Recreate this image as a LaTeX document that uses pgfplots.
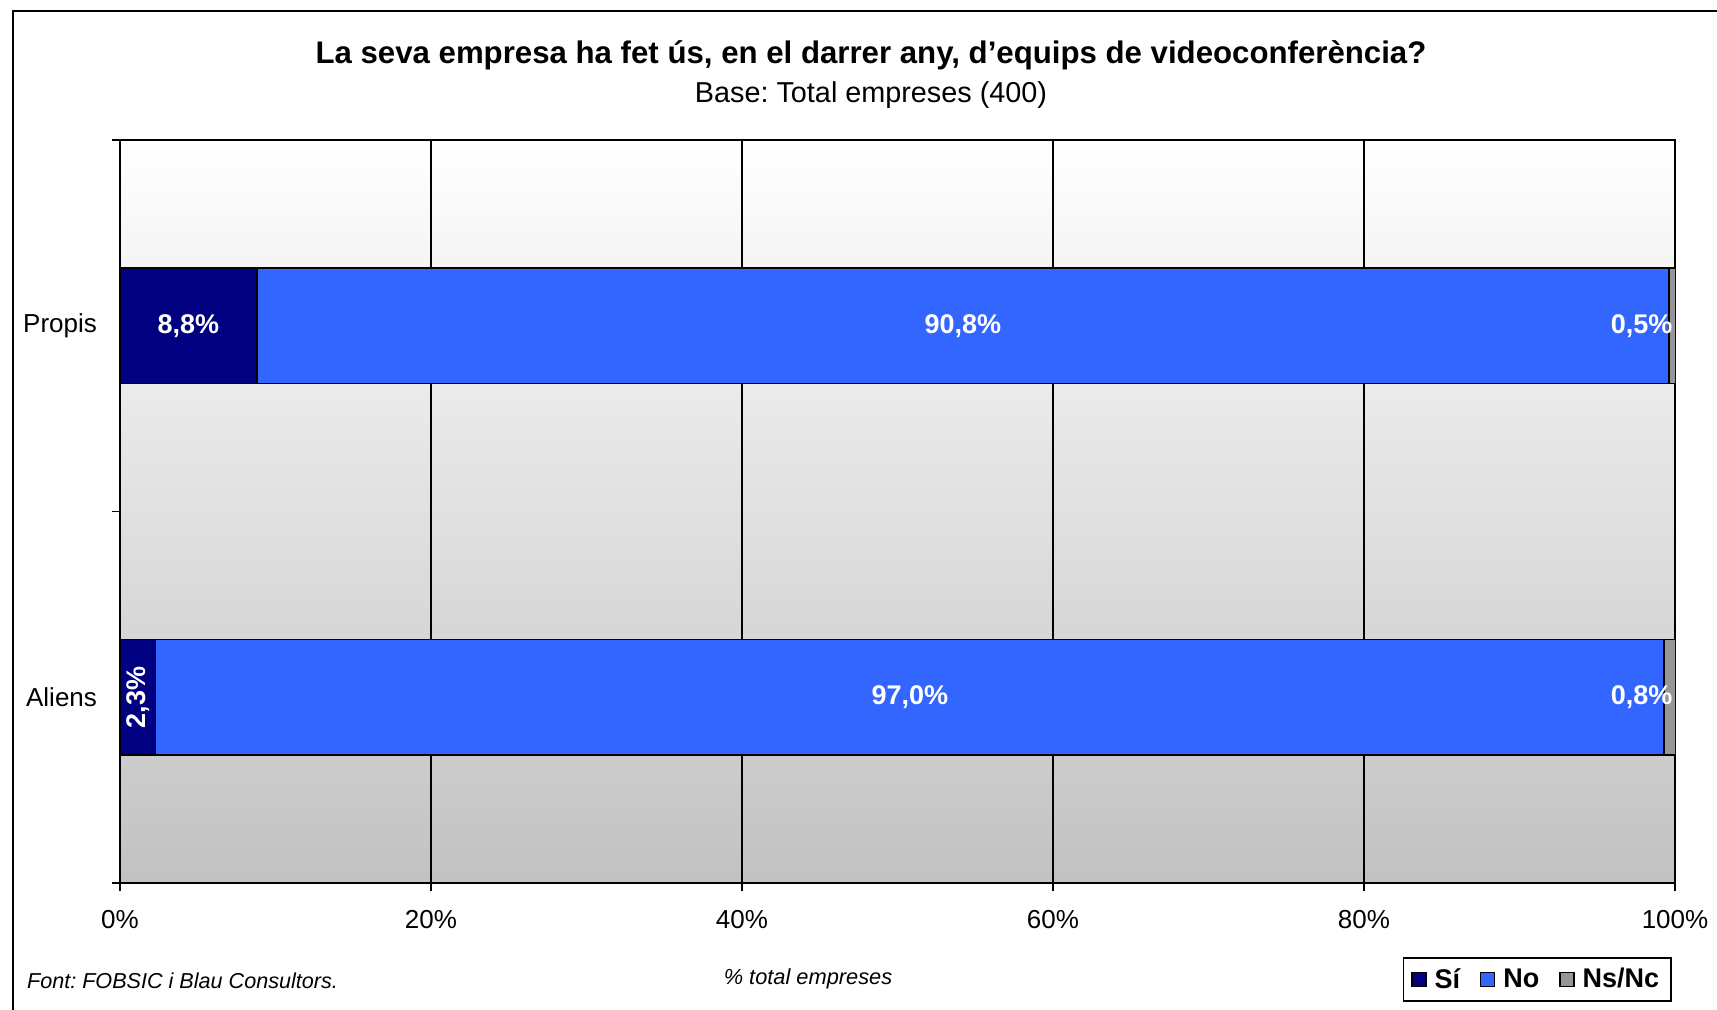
\documentclass[border=0pt]{standalone}
\usepackage{pgfplots}
\pgfplotsset{compat=1.18}
\usepackage{fontspec}
\setmainfont{Liberation Sans}
\frenchspacing
\definecolor{csi}{HTML}{000080}
\definecolor{cno}{HTML}{3366FF}
\definecolor{cns}{HTML}{969696}
\begin{document}
\begin{tikzpicture}
\useasboundingbox (-60pt,-63pt) rectangle (798.5pt,441.5pt);
\draw[line width=1pt] (-53.5pt,-80pt) -- (-53.5pt,436pt) -- (820pt,436pt);
\begin{axis}[
  at={(0,0)}, anchor=south west,
  scale only axis, width=777.5pt, height=371.5pt,
  xbar stacked, bar width=0.31,
  xmin=0, xmax=100, ymin=-0.5, ymax=1.5,
  axis background/.style={top color=white, bottom color=black!24},
  axis line style={line width=1pt, black},
  xtick={0,20,40,60,80,100},
  xticklabels={0\%,20\%,40\%,60\%,80\%,100\%},
  xmajorgrids, major grid style={black, line width=0.8pt},
  x tick style={black, line width=0.8pt},
  tick align=outside, major tick length=4pt,
  xtick pos=bottom, ytick pos=left,
  ytick={0,1}, yticklabels={Aliens,Propis},
  y tick style={draw=none},
  extra y ticks={-0.5,0.5,1.5}, extra y tick labels={},
  extra y tick style={y tick style={draw=black, line width=0.8pt}, grid=none, ytick pos=left},
  ticklabel style={font=\fontsize{13}{16}\selectfont},
  xticklabel style={yshift=-6pt},
  yticklabel style={xshift=-4pt},
  legend style={at={(0.998,-0.160)}, anchor=south east, legend columns=3,
    draw=black, line width=0.8pt, font=\fontsize{13.5}{16}\selectfont\bfseries,
    inner xsep=4pt, inner ysep=3pt,
    /tikz/every odd column/.append style={column sep=2pt},
    /tikz/every even column/.append style={column sep=8pt}},
  legend image code/.code={\draw[#1, line width=0.6pt] (0pt,-3.5pt) rectangle (7pt,3.5pt);},
]
\addplot[fill=csi, draw=black, line width=0.7pt] coordinates {(8.8,1) (2.3,0)};
\addplot[fill=cno, draw=black, line width=0.7pt] coordinates {(90.8,1) (97.0,0)};
\addplot[fill=cns, draw=black, line width=0.7pt] coordinates {(0.5,1) (0.8,0)};
\legend{Sí,No,Ns/Nc}
\coordinate (l1) at (axis cs:4.4,1);
\coordinate (l2) at (axis cs:54.2,1);
\coordinate (l3) at (axis cs:99.85,1);
\coordinate (l4) at (axis cs:1.15,0);
\coordinate (l5) at (axis cs:50.8,0);
\coordinate (l6) at (axis cs:99.85,0);
\end{axis}
\begin{scope}[every node/.style={text=white, font=\fontsize{13.5}{16}\selectfont\bfseries}]
\node at (l1) {8,8\%};
\node at (l2) {90,8\%};
\node[anchor=east, inner xsep=0pt] at (l3) {0,5\%};
\node[rotate=90] at (l4) {2,3\%};
\node at (l5) {97,0\%};
\node[anchor=east, inner xsep=0pt] at (l6) {0,8\%};
\end{scope}
\node[font=\fontsize{15.6}{19}\selectfont\bfseries] at (375.5pt,414pt) {La seva empresa ha fet ús, en el darrer any, d’equips de videoconferència?};
\node[font=\fontsize{14.4}{17}\selectfont] at (375.5pt,394pt) {Base: Total empreses (400)};
\node[font=\fontsize{10.8}{13}\selectfont\itshape, anchor=west] at (-50pt,-49pt) {Font: FOBSIC i Blau Consultors.};
\node[font=\fontsize{10.9}{13}\selectfont\itshape] at (344pt,-48pt) {\% total empreses};
\end{tikzpicture}
\end{document}
